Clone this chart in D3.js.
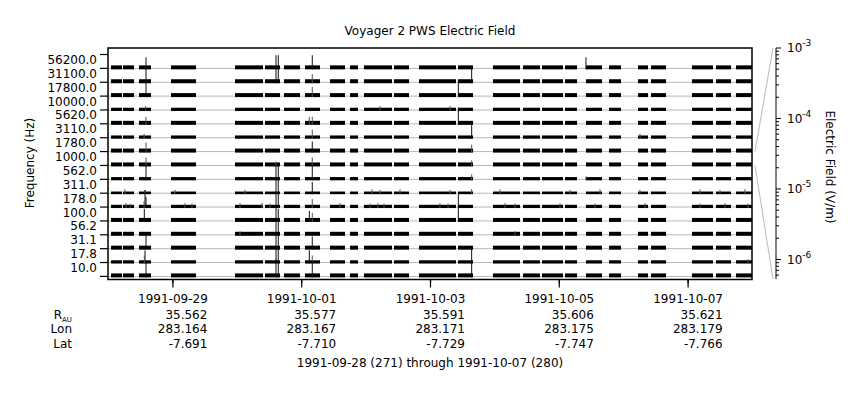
<!DOCTYPE html>
<html><head><meta charset="utf-8">
<script src="https://cdn.jsdelivr.net/npm/d3@7"></script>
<style>
body{margin:0;background:#fff}
text{font-family:"DejaVu Sans",sans-serif;font-size:12px;fill:#000}
</style>
</head><body>
<svg id="c" width="860" height="400"></svg>
<script>
// ---------------- DATA ----------------
const title = "Voyager 2 PWS Electric Field";
const channelsHz = [56200, 31100, 17800, 10000, 5620, 3110, 1780, 1000, 562, 311, 178, 100, 56.2, 31.1, 17.8, 10.0];
// upper edge of background noise band per channel (V/m)
const noiseTop = [2.7e-6, 2.7e-6, 2.7e-6, 1.8e-6, 2.7e-6, 1.8e-6, 2.7e-6, 2.7e-6, 1.8e-6, 1.3e-6, 1.8e-6, 2.7e-6, 2.7e-6, 2.7e-6, 1.8e-6, 2.7e-6];
// data coverage segments, decimal day of year 1991
const segStart = [271.047, 271.233, 271.481, 271.978, 272.972, 273.438, 273.733, 274.059, 274.447, 274.758, 274.975, 275.441, 275.829, 276.435, 276.978, 277.444, 277.739, 278.096, 278.422, 278.780, 279.230, 279.432, 280.068, 280.441, 280.752];
const segEnd   = [271.217, 271.404, 271.668, 272.366, 273.407, 273.671, 273.981, 274.292, 274.680, 274.882, 275.410, 275.674, 276.404, 276.668, 277.398, 277.708, 278.065, 278.283, 278.671, 278.966, 279.385, 279.665, 280.394, 280.674, 281.000];
// spikes: time (DOY), channel index, peak field (V/m)
const spikeDoy = [
 271.590,271.590,271.590,271.585,271.590,271.560,271.590,271.590,271.590,271.575,271.575,271.590,271.560,271.564,271.590,271.575,271.564,271.590,
 273.609,273.644,273.609,273.644,273.609,273.609,273.644,273.609,273.644,273.609,273.644,273.609,273.644,273.609,273.644,273.609,273.644,273.609,273.644,273.609,273.644,
 274.172,274.172,274.172,274.126,274.172,274.172,274.172,274.172,274.172,274.172,274.172,274.126,274.172,274.172,274.126,274.172,274.172,
 276.440,276.440,276.440,276.440,276.647,276.647,276.647,276.647,276.647,276.647,276.647,276.647,
 278.422,278.422,
 271.264,272.040,273.127,275.099,275.224,275.534,276.311,277.087,278.174,278.640,279.261,280.193,280.503,280.891,
 271.280,271.342,272.196,272.304,273.050,273.391,273.516,274.602,275.068,275.193,275.286,276.155,276.280,277.165,277.320,278.019,278.562,279.339,280.193,280.581,280.938,
 275.224,276.311,273.050,277.320,280.938,279.261];
const spikeChan = [
 0,1,2,3,4,5,6,7,8,9,10,10,10,11,13,14,14,15,
 0,0,1,1,7,8,8,9,9,10,10,11,11,12,12,13,13,14,14,15,15,
 0,1,2,4,4,5,6,7,8,9,10,11,11,13,14,14,15,
 2,4,10,11,1,5,6,7,8,9,14,15,
 0,8,
 9,9,9,9,9,9,9,9,9,9,9,9,9,9,
 10,10,10,10,10,10,10,10,10,10,10,10,10,10,10,10,10,10,10,10,10,
 3,3,12,12,14,5];
const spikeEf = [
 2.2e-4,1.2e-3,1.2e-3,4.6e-6,2.4e-5,4.6e-6,7.3e-5,4.2e-5,1.2e-3,2.7e-6,6.1e-3,1.3e-4,1.4e-5,3.9e-4,3.5e-3,3.9e-4,2.4e-5,2.0e-3,
 6.7e-4,6.7e-4,1.2e-3,1.2e-3,4.6e-6,1.2e-3,1.2e-3,3.5e-3,1.2e-3,2.0e-3,2.0e-3,1.2e-3,3.9e-4,1.2e-3,1.2e-3,2.0e-3,1.2e-3,3.5e-3,3.5e-3,6.1e-3,1.2e-3,
 6.7e-4,4.2e-5,7.3e-5,2.4e-5,2.4e-5,4.2e-5,1.3e-4,4.2e-5,1.2e-3,2.2e-4,4.2e-5,1.3e-4,4.2e-5,3.9e-4,3.9e-4,2.4e-5,2.0e-3,
 3.5e-3,3.5e-3,1.2e-3,1.2e-3,1.2e-3,3.5e-3,2.4e-5,8.1e-6,8.1e-6,4.6e-6,1.2e-3,1.2e-3,
 2.2e-4,2.7e-6,
 4.6e-6,3.5e-6,3.5e-6,4.6e-6,3.5e-6,4.6e-6,3.5e-6,4.6e-6,3.5e-6,4.6e-6,3.5e-6,4.6e-6,3.5e-6,4.6e-6,
 4.6e-6,3.5e-6,4.6e-6,3.5e-6,4.6e-6,4.6e-6,3.5e-6,4.6e-6,3.5e-6,4.6e-6,3.5e-6,4.6e-6,3.5e-6,4.6e-6,3.5e-6,4.6e-6,3.5e-6,4.6e-6,3.5e-6,4.6e-6,3.5e-6,
 4.6e-6,4.6e-6,3.5e-6,3.5e-6,3.5e-6,4.6e-6];
const timeStart = "1991-09-28", timeEnd = "1991-10-08";
const majorTicks = ["1991-09-29","1991-10-01","1991-10-03","1991-10-05","1991-10-07"];
const rAU = ["35.562","35.577","35.591","35.606","35.621"];
const lonDeg = ["283.164","283.167","283.171","283.175","283.179"];
const latDeg = ["-7.691","-7.710","-7.729","-7.747","-7.766"];
const efDomain = [5.28e-7, 1e-3];
const scaleChannel = 7; // channel the E-field scale refers to
const footer = "1991-09-28 (271) through 1991-10-07 (280)";

// ---------------- LAYOUT ----------------
const svg = d3.select("#c");
const L = 108, R = 752, T = 48, B = 279.5;
const rowTop0 = 54.5, rowBot = 276.4;
const doyDate = d => new Date(Date.UTC(1991,0,1) + (d-1)*864e5);

const x = d3.scaleUtc().domain([new Date(timeStart+"T00:00Z"), new Date(timeEnd+"T00:00Z")]).range([L, R]);
const yBand = d3.scaleBand().domain(d3.range(channelsHz.length)).range([rowTop0, rowBot]).paddingInner(0).paddingOuter(0);
const rowH = yBand.bandwidth();
const base = i => yBand(i) + rowH;
const yRow = d3.scaleLog().domain(efDomain).range([0, -rowH]);

// title
svg.append("text").attr("x", 430).attr("y", 35).attr("text-anchor","middle").text(title);

const g = svg.append("g");
// baselines
g.selectAll("line.base").data(channelsHz).join("line")
 .attr("x1", L).attr("x2", R)
 .attr("y1", (d,i)=>base(i)).attr("y2",(d,i)=>base(i))
 .attr("stroke","#b8b8b8").attr("stroke-width",1);

// noise bars
const segs = segStart.map((s,k)=>({s:doyDate(s), e:doyDate(segEnd[k])}));
channelsHz.forEach((f,i)=>{
  g.selectAll(null).data(segs).join("rect")
   .attr("x", d=>x(d.s)).attr("width", d=>x(d.e)-x(d.s))
   .attr("y", base(i)+yRow(noiseTop[i])).attr("height", -yRow(noiseTop[i])+1)
   .attr("fill","#000");
});

// spikes
const spikes = spikeDoy.map((t,k)=>({t:doyDate(t), c:spikeChan[k], v:spikeEf[k]}));
g.selectAll("line.sp").data(spikes).join("line")
 .attr("x1", d=>x(d.t)).attr("x2", d=>x(d.t))
 .attr("y1", d=>base(d.c)+1).attr("y2", d=>base(d.c)+yRow(d.v))
 .attr("stroke", d=> d.v>1e-4 ? "#111" : "#555").attr("stroke-width",1);

// frame
svg.append("rect").attr("x",L).attr("y",T).attr("width",R-L).attr("height",B-T)
 .attr("fill","none").attr("stroke","#000").attr("stroke-width",1.5);

// left ticks & labels
const tickYs = d3.range(channelsHz.length+1).map(i=> i<channelsHz.length ? yBand(i) : rowBot);
svg.selectAll("line.lt").data(tickYs).join("line")
 .attr("x1",100).attr("x2",L).attr("y1",d=>d).attr("y2",d=>d)
 .attr("stroke","#000").attr("stroke-width",1.2);
svg.selectAll("text.fl").data(channelsHz).join("text")
 .attr("x",97).attr("y",(d,i)=>yBand(i)+5.3).attr("dy","0.35em")
 .attr("text-anchor","end").text(d=>d3.format(".1f")(d));
svg.append("text").attr("transform","translate(34,163) rotate(-90)")
 .attr("text-anchor","middle").text("Frequency (Hz)");

// bottom axis
const minorAxis = d3.axisBottom(x).ticks(d3.utcDay.every(2)).tickSize(4).tickFormat("");
const majorDates = majorTicks.map(s=>new Date(s+"T00:00Z"));
const majorAxis = d3.axisBottom(x).tickValues(majorDates).tickSize(8).tickPadding(7)
  .tickFormat(d3.utcFormat("%Y-%m-%d"));
const ga1 = svg.append("g").attr("transform",`translate(0,${B})`).call(minorAxis);
const ga2 = svg.append("g").attr("transform",`translate(0,${B})`).call(majorAxis);
[ga1,ga2].forEach(a=>{
  a.select(".domain").remove();
  a.selectAll("line").attr("stroke","#000").attr("stroke-width",1.2);
  a.selectAll("text").style("font-family","DejaVu Sans").style("font-size","12px").attr("fill","#000");
});
// ephemeris rows
const ephY = [314.3, 329.2, 344];
const ephRows = [rAU, lonDeg, latDeg];
ephRows.forEach((row,r)=>{
  svg.selectAll(null).data(row).join("text")
   .attr("x",(d,k)=>x(majorDates[k])+35).attr("y",ephY[r]).attr("dy","0.35em")
   .attr("text-anchor","end").text(d=>d);
});
const rl = svg.append("text").attr("x",72).attr("y",ephY[0]).attr("dy","0.35em").attr("text-anchor","end");
rl.append("tspan").text("R");
rl.append("tspan").attr("dy","3").style("font-size","7px").text("AU");
svg.append("text").attr("x",72).attr("y",ephY[1]).attr("dy","0.35em").attr("text-anchor","end").text("Lon");
svg.append("text").attr("x",72).attr("y",ephY[2]).attr("dy","0.35em").attr("text-anchor","end").text("Lat");
svg.append("text").attr("x",430).attr("y",362.7).attr("dy","0.35em").attr("text-anchor","middle").text(footer);

// right E-field axis
const AX = 776, AT = 48, AB = 279;
const yE = d3.scaleLog().domain(efDomain).range([AB, AT]);
svg.append("line").attr("x1",AX).attr("x2",AX).attr("y1",AT).attr("y2",AB).attr("stroke","#000").attr("stroke-width",1);
const eticks = yE.ticks();
svg.selectAll("line.et").data(eticks).join("line")
 .attr("x1",AX).attr("x2",d=>{const m=Math.round(d/Math.pow(10,Math.floor(Math.log10(d)+1e-9))); return AX+(m===1?5:3);})
 .attr("y1",d=>yE(d)).attr("y2",d=>yE(d)).attr("stroke","#000").attr("stroke-width",1);
const decades = eticks.filter(d=>Math.abs(Math.log10(d)-Math.round(Math.log10(d)))<1e-6);
decades.forEach(d=>{
  const t = svg.append("text").attr("x",787).attr("y",yE(d)).attr("dy","0.35em");
  t.append("tspan").text("10");
  t.append("tspan").attr("dy","-6").style("font-size","9px").text(String(Math.round(Math.log10(d))));
});
svg.append("text").attr("transform","translate(826,167) rotate(90)").attr("text-anchor","middle").text("Electric Field (V/m)");
// connector lines from scale channel to axis
svg.append("line").attr("x1",R+3).attr("x2",AX-3).attr("y1",base(scaleChannel)+yRow(efDomain[1])).attr("y2",yE(efDomain[1]))
 .attr("stroke","#bbb").attr("stroke-width",1);
svg.append("line").attr("x1",R+3).attr("x2",AX-3).attr("y1",base(scaleChannel)).attr("y2",yE(efDomain[0]))
 .attr("stroke","#bbb").attr("stroke-width",1);
</script>
</body></html>
